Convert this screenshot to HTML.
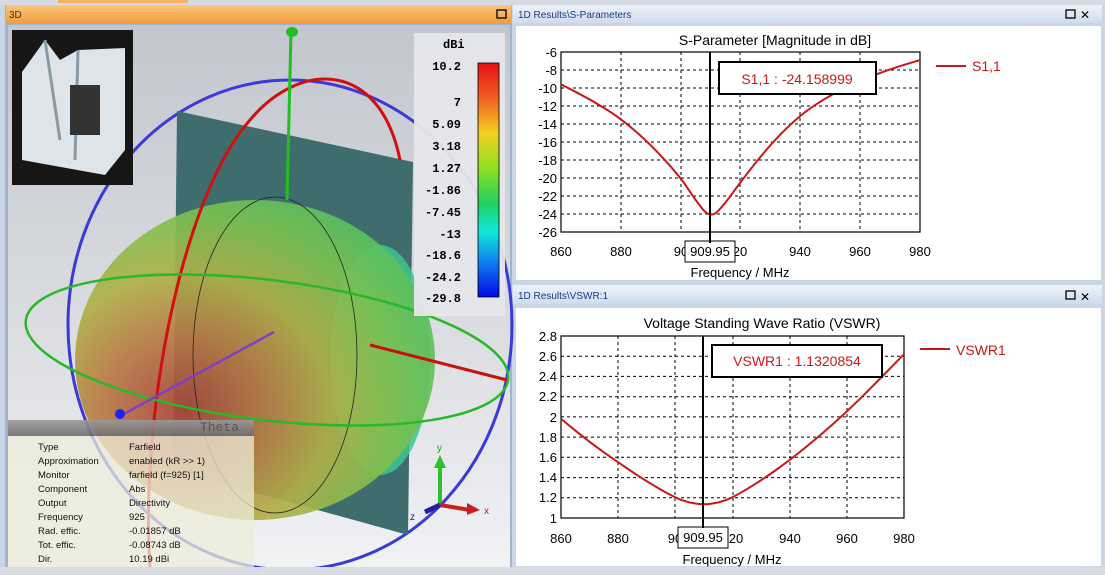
<!DOCTYPE html>
<html><head><meta charset="utf-8"><style>
html,body{margin:0;padding:0;width:1105px;height:575px;overflow:hidden;background:#c9d6e6;}
svg{position:absolute;left:0;top:0;font-family:"Liberation Sans",sans-serif;}
</style></head><body>
<svg width="1105" height="575" viewBox="0 0 1105 575" xmlns="http://www.w3.org/2000/svg">
<defs>
<linearGradient id="bg3d" x1="0" y1="0" x2="0" y2="1"><stop offset="0" stop-color="#c3c6ce"/><stop offset="0.5" stop-color="#d8dadf"/><stop offset="1" stop-color="#f1f2f4"/></linearGradient>
<linearGradient id="orh" x1="0" y1="0" x2="0" y2="1"><stop offset="0" stop-color="#fbc77f"/><stop offset="1" stop-color="#f39a3a"/></linearGradient>
<linearGradient id="blh" x1="0" y1="0" x2="0" y2="1"><stop offset="0" stop-color="#eef3fa"/><stop offset="1" stop-color="#cfdcec"/></linearGradient>
<linearGradient id="cs" x1="0" y1="0" x2="0" y2="1"><stop offset="0" stop-color="#e8101a"/><stop offset="0.15" stop-color="#f06020"/><stop offset="0.3" stop-color="#f4d020"/><stop offset="0.45" stop-color="#90e020"/><stop offset="0.6" stop-color="#20d060"/><stop offset="0.72" stop-color="#10e8d8"/><stop offset="0.85" stop-color="#1080f0"/><stop offset="1" stop-color="#0008e8"/></linearGradient>
<radialGradient id="blob" cx="0.3" cy="0.65" r="0.75"><stop offset="0" stop-color="#a8443a"/><stop offset="0.3" stop-color="#b87a44"/><stop offset="0.55" stop-color="#b0b048"/><stop offset="0.8" stop-color="#7cc050"/><stop offset="1" stop-color="#58c060"/></radialGradient>
<linearGradient id="ibh" x1="0" y1="0" x2="0" y2="1"><stop offset="0" stop-color="#999"/><stop offset="1" stop-color="#6e6e6e"/></linearGradient>
</defs>
<rect x="0" y="0" width="1105" height="5" fill="#d6dbe3"/>
<rect x="58" y="0" width="130" height="3" fill="#f5b060"/>
<rect x="5" y="5" width="507" height="565" fill="#9fb4cf"/>
<rect x="6" y="5" width="505" height="19" fill="url(#orh)"/>
<text x="9" y="18" font-size="10" fill="#333">3D</text>
<rect x="497" y="10" width="9" height="8" fill="none" stroke="#000" stroke-width="1.3"/>
<rect x="8" y="25" width="502" height="542" fill="url(#bg3d)"/>
<ellipse cx="290" cy="325" rx="222" ry="245" fill="none" stroke="#3a3ad8" stroke-width="3"/>
<polygon points="177,111 413,162 408,535 173,470" fill="#3f6d6d"/>
<ellipse cx="380" cy="360" rx="50" ry="115" fill="#3cc690" opacity="0.85"/>
<ellipse cx="255" cy="360" rx="180" ry="160" fill="url(#blob)" opacity="0.92"/>
<ellipse cx="275" cy="355" rx="82" ry="158" fill="none" stroke="#222" stroke-width="0.8"/>
<path d="M150,567 C140,420 180,200 250,120 C300,60 380,60 400,160" fill="none" stroke="#d01010" stroke-width="3"/>
<ellipse cx="267" cy="350" rx="243" ry="70" transform="rotate(7 267 350)" fill="none" stroke="#28b828" stroke-width="2.5"/>
<line x1="291" y1="32" x2="287" y2="200" stroke="#20c020" stroke-width="3"/>
<ellipse cx="292" cy="32" rx="6" ry="5" fill="#20c020"/>
<line x1="370" y1="345" x2="507" y2="380" stroke="#c81010" stroke-width="3"/>
<line x1="274" y1="332" x2="122" y2="415" stroke="#8040c0" stroke-width="2.5"/>
<circle cx="120" cy="414" r="5" fill="#2020ff"/>
<rect x="414" y="33" width="91" height="283" fill="#e6e7ea" opacity="0.95"/>
<text x="443" y="48" font-family="Liberation Mono,monospace" font-weight="bold" font-size="12">dBi</text>
<rect x="478" y="63" width="21" height="234" fill="url(#cs)" stroke="#000" stroke-width="0.8"/>
<g font-family="Liberation Mono,monospace" font-weight="bold" font-size="12" text-anchor="end" fill="#000">
<text x="461" y="70">10.2</text><text x="461" y="106">7</text><text x="461" y="128">5.09</text><text x="461" y="150">3.18</text><text x="461" y="172">1.27</text><text x="461" y="194">-1.86</text><text x="461" y="216">-7.45</text><text x="461" y="238">-13</text><text x="461" y="259">-18.6</text><text x="461" y="281">-24.2</text><text x="461" y="302">-29.8</text>
</g>
<rect x="12" y="30" width="121" height="155" fill="#161616"/>
<path d="M22,72 L45,40 L60,60 L78,50 L125,48 L125,150 L105,175 L22,160 Z" fill="#dde4ea"/>
<path d="M45,40 L60,140 M78,50 L75,160" stroke="#8a9aa4" stroke-width="3" fill="none"/>
<rect x="70" y="85" width="30" height="50" fill="#333"/>
<line x1="440" y1="505" x2="440" y2="465" stroke="#30c030" stroke-width="4"/><polygon points="434,468 446,468 440,455" fill="#30c030"/>
<line x1="440" y1="505" x2="470" y2="510" stroke="#c82020" stroke-width="4"/><polygon points="467,503 480,510 467,515" fill="#c82020"/>
<line x1="440" y1="505" x2="425" y2="512" stroke="#2020a0" stroke-width="5"/>
<text x="437" y="451" font-size="10" fill="#20a020">y</text><text x="484" y="514" font-size="10" fill="#c02020">x</text><text x="410" y="520" font-size="10" fill="#2020a0">z</text>
<rect x="8" y="420" width="246" height="16" fill="url(#ibh)" opacity="0.9"/>
<text x="200" y="431" font-size="13" fill="#555" font-family="Liberation Mono,monospace">Theta</text>
<rect x="8" y="436" width="246" height="131" fill="#eeeeda" opacity="0.75"/>
<g font-size="9.5" fill="#111">
<text x="38" y="450">Type</text><text x="129" y="450">Farfield</text>
<text x="38" y="464">Approximation</text><text x="129" y="464">enabled (kR &gt;&gt; 1)</text>
<text x="38" y="478">Monitor</text><text x="129" y="478">farfield (f=925) [1]</text>
<text x="38" y="492">Component</text><text x="129" y="492">Abs</text>
<text x="38" y="506">Output</text><text x="129" y="506">Directivity</text>
<text x="38" y="520">Frequency</text><text x="129" y="520">925</text>
<text x="38" y="534">Rad. effic.</text><text x="129" y="534">-0.01857 dB</text>
<text x="38" y="548">Tot. effic.</text><text x="129" y="548">-0.08743 dB</text>
<text x="38" y="562">Dir.</text><text x="129" y="562">10.19 dBi</text>
</g>
<rect x="0" y="567" width="1105" height="8" fill="#d9dde3"/>

<rect x="513" y="5" width="589" height="18" fill="url(#blh)"/>
<text x="518" y="18" font-size="10" fill="#1a3a8a">1D Results\S-Parameters</text>
<rect x="1066" y="10" width="9" height="8" fill="none" stroke="#000" stroke-width="1.3"/>
<text x="1080" y="19" font-size="12">✕</text>
<rect x="516" y="26" width="585" height="254" fill="#fff"/>
<text x="775" y="45" font-size="14" text-anchor="middle">S-Parameter [Magnitude in dB]</text>
<g stroke="#000" stroke-dasharray="3,3" stroke-width="1">
<line x1="621" y1="52" x2="621" y2="232"/><line x1="681" y1="52" x2="681" y2="232"/><line x1="740" y1="52" x2="740" y2="232"/><line x1="800" y1="52" x2="800" y2="232"/><line x1="860" y1="52" x2="860" y2="232"/>
<line x1="561" y1="70" x2="920" y2="70"/><line x1="561" y1="88" x2="920" y2="88"/><line x1="561" y1="106" x2="920" y2="106"/><line x1="561" y1="124" x2="920" y2="124"/><line x1="561" y1="142" x2="920" y2="142"/><line x1="561" y1="160" x2="920" y2="160"/><line x1="561" y1="178" x2="920" y2="178"/><line x1="561" y1="196" x2="920" y2="196"/><line x1="561" y1="214" x2="920" y2="214"/>
</g>
<rect x="561" y="52" width="359" height="180" fill="none" stroke="#000" stroke-width="1.2"/>
<g font-size="13" text-anchor="end">
<text x="557" y="57">-6</text><text x="557" y="75">-8</text><text x="557" y="93">-10</text><text x="557" y="111">-12</text><text x="557" y="129">-14</text><text x="557" y="147">-16</text><text x="557" y="165">-18</text><text x="557" y="183">-20</text><text x="557" y="201">-22</text><text x="557" y="219">-24</text><text x="557" y="237">-26</text>
</g>
<g font-size="13" text-anchor="middle">
<text x="561" y="256">860</text><text x="621" y="256">880</text><text x="681" y="256">90</text><text x="740" y="256">20</text><text x="800" y="256">940</text><text x="860" y="256">960</text><text x="920" y="256">980</text>
<text x="740" y="277">Frequency / MHz</text>
</g>
<rect x="685" y="241" width="50" height="21" fill="#fff" stroke="#000"/>
<text x="710" y="256" font-size="13" text-anchor="middle">909.95</text>
<path fill="none" stroke="#c81818" stroke-width="2" d="M561,84.4 L576,92.05 Q591,99.7 606,109.15 Q621,118.6 636,131.65 Q651,144.7 666,161.35 Q681,178 688,188.8 Q695,199.6 702.75,209.3 Q710.5,219 718,211.1 Q725.5,203.2 732.75,192.85 Q740,182.5 755,163.6 Q770,144.7 785,129.85 Q800,115 815,105.1 Q830,95.2 845,88 Q860,80.8 875,74.95 Q890,69.1 905,64.6 L920,60.1"/>
<line x1="710" y1="52" x2="710" y2="243" stroke="#000" stroke-width="2"/>
<rect x="719" y="62" width="157" height="32" fill="#fff" stroke="#000" stroke-width="2"/>
<text x="797" y="84" font-size="14" fill="#c81818" text-anchor="middle">S1,1 : -24.158999</text>
<line x1="936" y1="66" x2="966" y2="66" stroke="#c81818" stroke-width="2"/>
<text x="972" y="71" font-size="14" fill="#c81818">S1,1</text>

<rect x="513" y="285" width="589" height="19" fill="url(#blh)"/>
<text x="518" y="299" font-size="10" fill="#1a3a8a">1D Results\VSWR:1</text>
<rect x="1066" y="291" width="9" height="8" fill="none" stroke="#000" stroke-width="1.3"/>
<text x="1080" y="301" font-size="12">✕</text>
<rect x="516" y="308" width="585" height="258" fill="#fff"/>
<text x="762" y="328" font-size="14" text-anchor="middle">Voltage Standing Wave Ratio (VSWR)</text>
<g stroke="#000" stroke-dasharray="3,3" stroke-width="1">
<line x1="618" y1="336" x2="618" y2="518"/><line x1="675" y1="336" x2="675" y2="518"/><line x1="733" y1="336" x2="733" y2="518"/><line x1="790" y1="336" x2="790" y2="518"/><line x1="847" y1="336" x2="847" y2="518"/>
<line x1="561" y1="356.2" x2="904" y2="356.2"/><line x1="561" y1="376.4" x2="904" y2="376.4"/><line x1="561" y1="396.7" x2="904" y2="396.7"/><line x1="561" y1="416.9" x2="904" y2="416.9"/><line x1="561" y1="437.1" x2="904" y2="437.1"/><line x1="561" y1="457.3" x2="904" y2="457.3"/><line x1="561" y1="477.6" x2="904" y2="477.6"/><line x1="561" y1="497.8" x2="904" y2="497.8"/>
</g>
<rect x="561" y="336" width="343" height="182" fill="none" stroke="#000" stroke-width="1.2"/>
<g font-size="13" text-anchor="end">
<text x="557" y="341">2.8</text><text x="557" y="361">2.6</text><text x="557" y="381">2.4</text><text x="557" y="401">2.2</text><text x="557" y="422">2</text><text x="557" y="442">1.8</text><text x="557" y="462">1.6</text><text x="557" y="482">1.4</text><text x="557" y="502">1.2</text><text x="557" y="523">1</text>
</g>
<g font-size="13" text-anchor="middle">
<text x="561" y="543">860</text><text x="618" y="543">880</text><text x="675" y="543">90</text><text x="736" y="543">20</text><text x="790" y="543">940</text><text x="847" y="543">960</text><text x="904" y="543">980</text>
<text x="732" y="564">Frequency / MHz</text>
</g>
<rect x="678" y="527" width="50" height="21" fill="#fff" stroke="#000"/>
<text x="703" y="542" font-size="13" text-anchor="middle">909.95</text>
<path fill="none" stroke="#c81818" stroke-width="2" d="M561,418.9 L575.3,430.55 Q589.6,442.2 603.9,452.3 Q618.2,462.4 632.45,472 Q646.7,481.6 661,489.7 Q675.3,497.8 682.45,500.3 Q689.6,502.8 696.8,503.8 Q704,504.8 711.1,503.8 Q718.2,502.8 725.35,500.3 Q732.5,497.8 746.75,489.2 Q761,480.6 775.3,470.5 Q789.6,460.4 803.9,448.75 Q818.2,437.1 832.5,424.45 Q846.8,411.8 861.1,397.65 Q875.4,383.5 889.7,368.85 L904,354.2"/>
<line x1="703" y1="336" x2="703" y2="528" stroke="#000" stroke-width="2"/>
<rect x="712" y="345" width="170" height="32" fill="#fff" stroke="#000" stroke-width="2"/>
<text x="797" y="366" font-size="14" fill="#c81818" text-anchor="middle">VSWR1 : 1.1320854</text>
<line x1="920" y1="349" x2="950" y2="349" stroke="#c81818" stroke-width="2"/>
<text x="956" y="355" font-size="14" fill="#c81818">VSWR1</text>
</svg>
</body></html>
